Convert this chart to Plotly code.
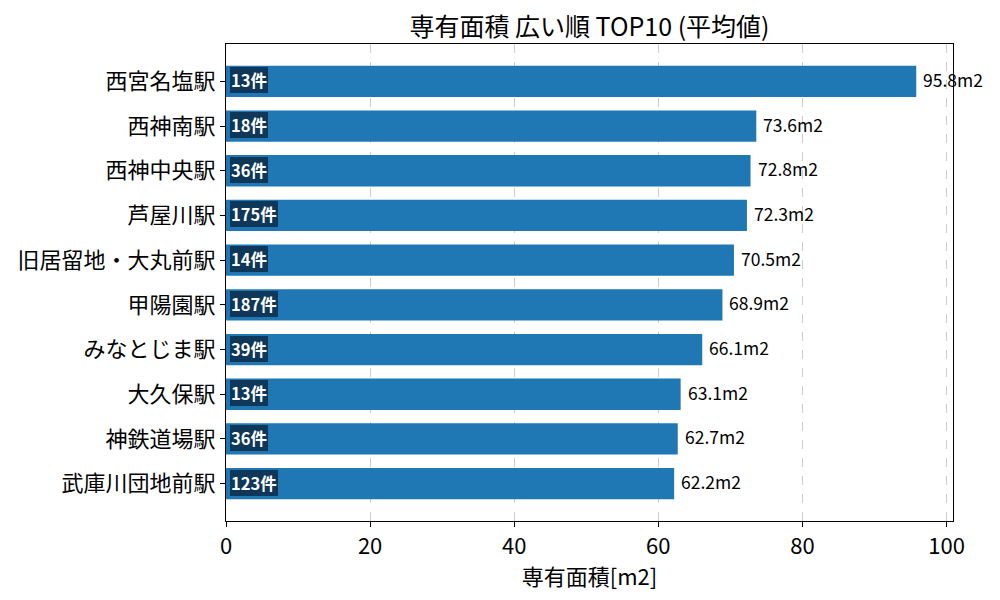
import plotly.graph_objects as go

stations = ["西宮名塩駅", "西神南駅", "西神中央駅", "芦屋川駅", "旧居留地・大丸前駅",
            "甲陽園駅", "みなとじま駅", "大久保駅", "神鉄道場駅", "武庫川団地前駅"]
areas = [95.8, 73.6, 72.8, 72.3, 70.5, 68.9, 66.1, 63.1, 62.7, 62.2]
counts = [13, 18, 36, 175, 14, 187, 39, 13, 36, 123]
x_ticks = [0, 20, 40, 60, 80, 100]

FONT = "Noto Sans CJK JP"
n = len(stations)
ypos = list(range(n - 1, -1, -1))

fig = go.Figure()
fig.add_trace(go.Bar(
    x=areas, y=ypos, orientation="h", width=0.7,
    marker=dict(color="#1f77b4", line=dict(width=0)),
    hoverinfo="skip",
))

annotations = []
for yp, a, c in zip(ypos, areas, counts):
    annotations.append(dict(
        x=a, y=yp, xref="x", yref="y", text=f"{a:.1f}m2", showarrow=False,
        xanchor="left", yanchor="middle", xshift=5, yshift=2,
        font=dict(family=FONT, size=17.5, color="black"),
    ))
    annotations.append(dict(
        x=0, y=yp, xref="x", yref="y", text=f"<b>{c}件</b>", showarrow=False,
        xanchor="left", yanchor="middle", xshift=4, yshift=1,
        font=dict(family=FONT, size=16.5, color="white"),
        bgcolor="rgba(12,48,80,0.9)", borderpad=1, borderwidth=0,
    ))

fig.update_layout(
    width=1000, height=600,
    margin=dict(l=218, r=55, t=36, b=87),
    paper_bgcolor="white", plot_bgcolor="white",
    showlegend=False,
    title=dict(text="専有面積 広い順 TOP10 (平均値)", x=0.5, xref="paper",
               xanchor="center", y=0.968, yanchor="middle",
               font=dict(family=FONT, size=25, color="black")),
    xaxis=dict(range=[0, 100.9], tickvals=x_ticks, ticktext=[str(t) for t in x_ticks],
               showgrid=True, gridcolor="#cccccc", griddash="dash", gridwidth=1,
               showline=True, linecolor="black", linewidth=1.2, mirror=True,
               ticks="outside", ticklen=5, tickcolor="black",
               tickfont=dict(family=FONT, size=22, color="black"),
               title=dict(text="専有面積[m2]", font=dict(family=FONT, size=22, color="black"),
                          standoff=4),
               zeroline=False),
    yaxis=dict(range=[-0.835, 9.835], tickvals=ypos, ticktext=stations,
               showgrid=False, showline=True, linecolor="black", linewidth=1.2, mirror=True,
               ticks="outside", ticklen=5, tickcolor="black",
               tickfont=dict(family=FONT, size=22, color="black"),
               zeroline=False, automargin=False),
    annotations=annotations,
)

fig.write_html("out.html")
